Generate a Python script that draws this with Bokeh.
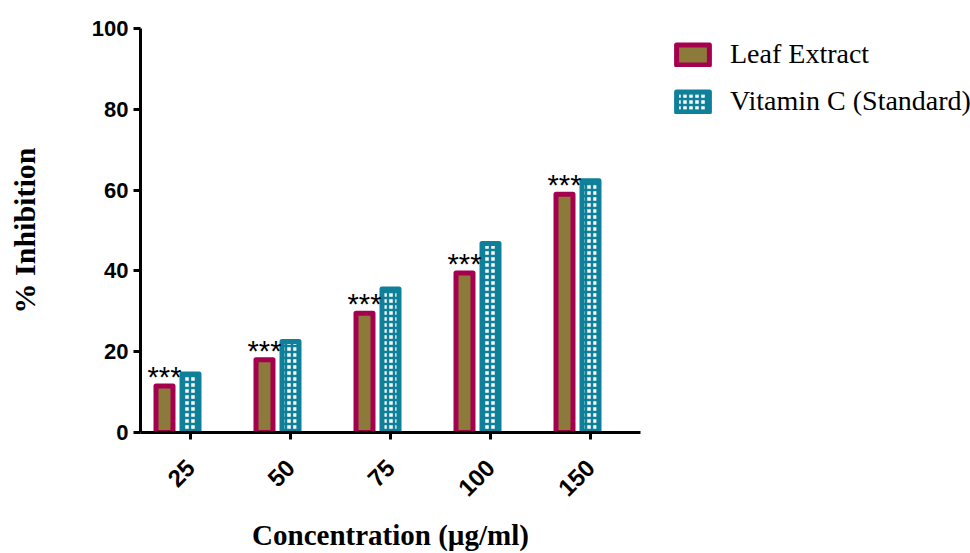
import math
from bokeh.plotting import figure
from bokeh.models import ColumnDataSource, FactorRange, Legend, LegendItem, SingleIntervalTicker
from bokeh.transform import dodge
from bokeh.core.properties import value
from bokeh.embed import file_html
from bokeh.resources import INLINE

concentrations = ["25", "50", "75", "100", "150"]
leaf_extract = [11.5, 18.0, 29.5, 39.5, 59.0]
vitamin_c = [14.5, 22.5, 35.5, 46.8, 62.3]
significance = ["***", "***", "***", "***", "***"]

src = ColumnDataSource(dict(x=concentrations, leaf=leaf_extract, vit=vitamin_c, sig=significance))

p = figure(x_range=FactorRange(*concentrations), y_range=(0, 100),
           frame_width=500, frame_height=404, output_backend="svg", toolbar_location=None,
           min_border_left=140, min_border_top=28, min_border_bottom=118, min_border_right=320)
p.x_range.range_padding = 0
p.outline_line_color = None
p.grid.grid_line_color = None

r1 = p.vbar(x=dodge("x", -0.26, range=p.x_range), top="leaf", bottom=0, width=0.17, source=src,
            fill_color="#8C7A3B", line_color="#A5004F", line_width=5, line_join="round")
r2 = p.vbar(x=dodge("x", 0.0, range=p.x_range), top="vit", bottom=0, width=0.17, source=src,
            fill_color="white", line_color="#0E8099", line_width=5, line_join="round",
            hatch_pattern="cross", hatch_color="#0E8099", hatch_weight=2.5, hatch_scale=6)

p.text(x=dodge("x", -0.26, range=p.x_range), y="leaf", text="sig", source=src,
       text_align="center", text_baseline="middle", y_offset=-9,
       text_font=value("Liberation Sans"), text_font_size="29px", text_color="black")

for ax in (p.xaxis[0], p.yaxis[0]):
    ax.axis_line_width = 3
    ax.major_tick_line_width = 3
    ax.major_tick_out = 7
    ax.major_tick_in = 0
    ax.minor_tick_line_color = None
    ax.major_label_text_font = "Liberation Sans"
    ax.major_label_text_font_style = "bold"
    ax.major_label_text_color = "black"
    ax.axis_label_text_font = "Liberation Serif"
    ax.axis_label_text_font_style = "bold"
    ax.axis_label_text_color = "black"

p.yaxis.ticker = SingleIntervalTicker(interval=20)
p.yaxis.major_label_text_font_size = "22px"
p.yaxis.axis_label = "% Inhibition"
p.yaxis.axis_label_text_font_size = "30px"
p.yaxis.axis_label_standoff = 48
p.xaxis.major_label_text_font_size = "24px"
p.xaxis.axis_label = "Concentration (µg/ml)"
p.xaxis.axis_label_text_font_size = "29px"
p.xaxis.axis_label_standoff = 12
p.xaxis.major_label_orientation = math.pi / 4
p.xaxis.major_label_standoff = 24

legend = Legend(items=[LegendItem(label="Leaf Extract", renderers=[r1]),
                       LegendItem(label="Vitamin C (Standard)", renderers=[r2])],
                location=(32, 315), margin=0, padding=0, spacing=15,
                glyph_width=41, glyph_height=25, label_standoff=17,
                label_text_font="Liberation Serif", label_text_font_size="28px",
                label_text_color="black",
                border_line_color=None, background_fill_alpha=0)
p.add_layout(legend, "right")

open("out.html", "w").write(file_html(p, INLINE))
